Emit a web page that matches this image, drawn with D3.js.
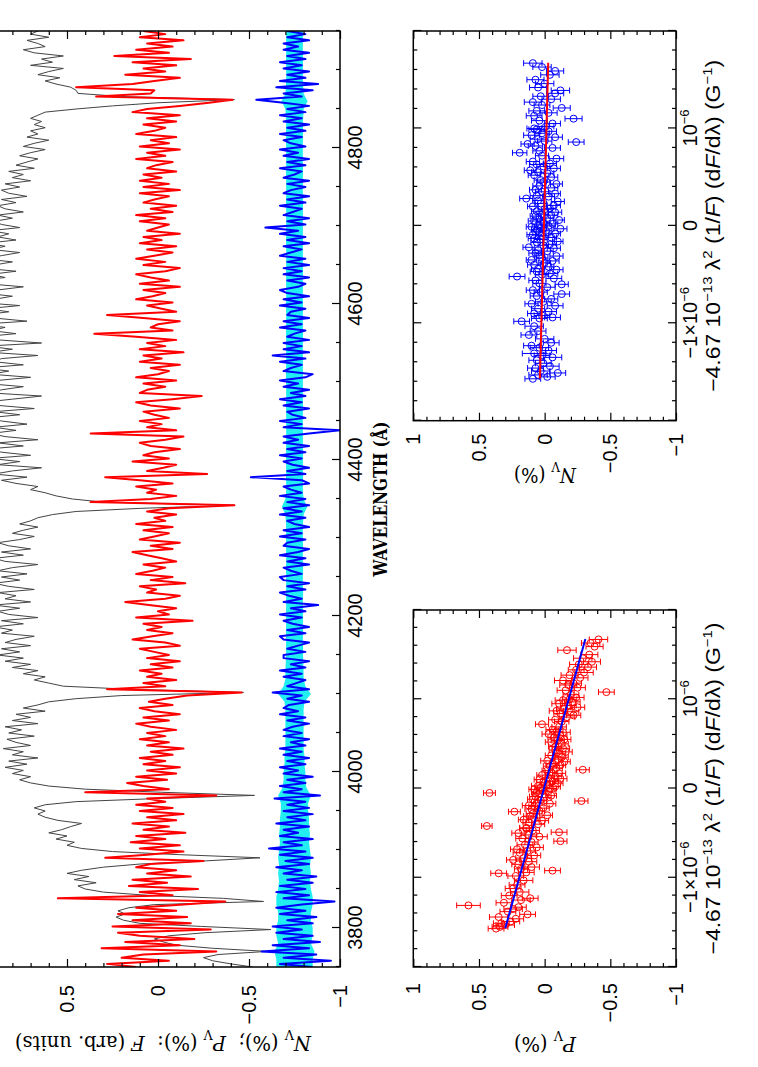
<!DOCTYPE html>
<html>
<head>
<meta charset="utf-8">
<script src="https://cdn.jsdelivr.net/npm/d3@7"></script>
<style>
  body { margin: 0; background: #fff; }
  svg { display: block; }
</style>
</head>
<body>
<div id="canvas"></div>
<script>
'use strict';

// Spectra are sampled on a regular wavelength grid (Angstrom).
const SPEC_START = 3750;
const SPEC_STEP = 4;

// Normalised flux F (arbitrary units, shifted into the frame).
const flux = [
  -0.52, -0.40, -0.30, -0.25, -0.33, -0.60, -0.30, -0.10, -0.03, 0.02, -0.06, -0.26, -0.62, -0.24, 0.10, 0.19, 0.23, 0.18, 0.22, 0.16, 0.02, -0.58, -0.36, 0.06, 0.30,
  0.40, 0.44, 0.34, 0.46, 0.38, 0.50, 0.42, 0.30, 0.10, -0.26, -0.56, -0.12, 0.25, 0.42, 0.50, 0.46, 0.56, 0.50, 0.60, 0.53, 0.48, 0.42, 0.55, 0.62, 0.66,
  0.62, 0.68, 0.62, 0.45, 0.00, -0.53, -0.02, 0.40, 0.60, 0.70, 0.76, 0.70, 0.80, 0.74, 0.84, 0.72, 0.82, 0.66, 0.80, 0.74, 0.85, 0.70, 0.78, 0.83, 0.68,
  0.82, 0.75, 0.84, 0.66, 0.80, 0.70, 0.78, 0.62, 0.74, 0.66, 0.60, 0.45, 0.20, -0.47, 0.15, 0.52, 0.60, 0.68, 0.62, 0.74, 0.66, 0.80, 0.70, 0.84, 0.74,
  0.88, 0.76, 0.86, 0.70, 0.84, 0.78, 0.68, 0.86, 0.80, 0.90, 0.74, 0.86, 0.66, 0.82, 0.88, 0.76, 0.90, 0.70, 0.84, 0.78, 0.88, 0.68, 0.82, 0.90, 0.76,
  0.86, 0.72, 0.88, 0.80, 0.66, 0.84, 0.90, 0.74, 0.86, 0.70, 0.82, 0.88, 0.76, 0.68, 0.80, 0.74, 0.66, 0.76, 0.70, 0.66, 0.58, 0.45, 0.10, -0.42, 0.30,
  0.47, 0.56, 0.62, 0.70, 0.66, 0.78, 0.86, 0.72, 0.90, 0.80, 0.64, 0.88, 0.76, 0.92, 0.70, 0.86, 0.94, 0.74, 0.88, 0.66, 0.84, 0.92, 0.78, 0.90, 0.72,
  0.86, 0.94, 0.76, 0.90, 0.68, 0.88, 0.96, 0.80, 0.64, 0.92, 0.86, 0.74, 0.94, 0.88, 0.70, 0.92, 0.82, 0.96, 0.74, 0.90, 0.86, 0.66, 0.92, 0.80, 0.94,
  0.64, 0.88, 0.96, 0.78, 0.92, 0.84, 0.98, 0.72, 0.90, 0.96, 0.82, 0.94, 0.76, 0.98, 0.90, 0.80, 0.96, 0.88, 0.74, 0.94, 0.98, 0.84, 0.92, 0.78, 0.96,
  0.90, 0.80, 0.96, 0.86, 0.76, 0.92, 0.84, 0.94, 0.78, 0.88, 0.82, 0.92, 0.76, 0.86, 0.90, 0.80, 0.88, 0.74, 0.84, 0.88, 0.78, 0.86, 0.72, 0.82, 0.86,
  0.76, 0.84, 0.70, 0.80, 0.74, 0.82, 0.68, 0.78, 0.72, 0.66, 0.76, 0.70, 0.62, 0.74, 0.68, 0.60, 0.72, 0.66, 0.70, 0.62, 0.68, 0.64, 0.70, 0.66, 0.62,
  0.45, 0.25, 0.00, -0.42, 0.20, 0.44, 0.45, 0.48, 0.56, 0.62, 0.54, 0.66, 0.60, 0.52, 0.70, 0.58, 0.64, 0.52, 0.68, 0.74, 0.62, 0.66, 0.72, 0.60, 0.70,
  0.66,
];

// Stokes V polarisation P_V (%).
const stokesV = [
  0.12, 0.28, -0.06, 0.20, 0.08, -0.32, 0.31, -0.12, 0.18, -0.20, 0.10, 0.22, -0.29, 0.25, -0.18, 0.14, -0.16, 0.22, -0.10, 0.12, -0.14, -0.37, 0.55, -0.08, 0.10,
  -0.22, 0.16, -0.05, 0.14, -0.18, 0.06, -0.10, 0.12, 0.04, -0.25, 0.29, 0.06, -0.14, 0.10, -0.12, 0.15, -0.04, 0.12, -0.15, 0.08, -0.06, 0.14, -0.10, 0.06, -0.14,
  0.10, -0.08, 0.12, -0.04, 0.06, -0.32, 0.40, -0.06, 0.08, 0.17, -0.05, 0.12, -0.10, 0.06, -0.12, 0.08, -0.04, 0.10, -0.08, 0.04, -0.14, 0.06, -0.06, 0.10, -0.04,
  0.06, -0.10, 0.04, 0.12, -0.06, 0.08, -0.12, 0.02, 0.10, -0.08, 0.05, -0.04, -0.16, -0.46, 0.28, -0.04, 0.08, -0.10, 0.06, -0.02, 0.10, -0.08, 0.04, -0.12, 0.06,
  -0.06, 0.02, 0.10, -0.12, -0.04, 0.14, 0.03, -0.08, 0.06, -0.02, 0.08, -0.19, 0.12, -0.06, 0.00, -0.10, 0.05, 0.18, -0.04, -0.12, 0.06, 0.01, 0.10, -0.15, 0.04,
  -0.08, 0.12, 0.03, -0.04, 0.08, -0.10, -0.02, 0.06, 0.14, -0.08, 0.04, -0.12, 0.10, 0.02, -0.06, 0.08, -0.08, 0.12, -0.04, 0.02, -0.10, 0.06, -0.06, -0.42, 0.37,
  0.04, -0.10, 0.06, 0.01, 0.12, -0.08, 0.10, 0.29, -0.27, 0.06, -0.03, -0.10, 0.14, -0.06, 0.08, 0.02, -0.12, 0.04, 0.10, -0.04, -0.14, 0.37, -0.10, 0.06, -0.02,
  0.10, -0.06, 0.02, 0.08, -0.12, 0.04, 0.12, -0.08, -0.24, 0.10, 0.06, -0.04, 0.08, -0.10, 0.12, 0.00, -0.06, 0.04, -0.12, 0.10, -0.02, 0.08, -0.14, 0.10, -0.04,
  0.06, -0.10, 0.12, 0.35, -0.08, 0.04, 0.00, -0.12, 0.08, 0.28, -0.10, -0.02, 0.06, -0.08, 0.12, 0.03, -0.04, 0.08, -0.12, 0.10, -0.06, 0.04, 0.12, -0.04, -0.12,
  0.08, -0.04, 0.12, 0.02, -0.08, 0.06, -0.10, 0.10, -0.02, 0.08, -0.12, 0.06, 0.00, -0.06, 0.10, -0.04, 0.12, -0.08, 0.04, -0.10, 0.08, 0.02, -0.06, 0.10, -0.12,
  0.08, -0.06, 0.10, -0.02, 0.08, -0.10, 0.06, 0.01, -0.08, 0.12, -0.04, 0.06, -0.12, 0.10, -0.06, 0.04, -0.10, 0.12, 0.02, -0.04, 0.08, -0.10, 0.06, -0.12, 0.14,
  0.06, -0.12, -0.28, -0.41, 0.34, 0.04, 0.02, 0.45, 0.14, 0.02, -0.12, 0.18, -0.04, 0.08, -0.10, 0.14, -0.18, 0.24, -0.06, 0.12, -0.08, 0.06, -0.14, 0.10, -0.04,
  0.08,
];

// Null spectrum N_V (%), drawn shifted down by NULL_OFFSET.
const NULL_OFFSET = -0.75;
const nullV = [
  -0.10, 0.08, -0.20, 0.06, -0.12, 0.18, -0.08, 0.12, -0.14, 0.06, -0.10, 0.10, -0.04, 0.12, -0.10, 0.04, -0.12, 0.08, -0.06, 0.10, -0.04, -0.22, 0.06, -0.08, 0.10,
  -0.06, 0.08, -0.10, 0.04, -0.12, 0.06, -0.04, 0.10, -0.08, 0.05, -0.10, 0.08, -0.06, 0.14, -0.04, 0.06, -0.10, 0.08, -0.02, 0.06, -0.08, 0.10, -0.06, 0.04, -0.10,
  0.06, -0.08, 0.04, -0.06, 0.11, -0.14, 0.06, -0.04, 0.08, -0.06, 0.04, -0.10, 0.06, -0.02, 0.08, -0.06, 0.04, -0.08, 0.06, -0.04, 0.08, -0.06, 0.02, -0.08, 0.06,
  -0.04, 0.06, 0.01, -0.08, 0.04, -0.06, 0.08, -0.02, 0.06, 0.03, -0.08, 0.04, -0.04, 0.12, -0.08, 0.04, -0.01, -0.06, 0.06, -0.04, 0.08, -0.06, 0.02, -0.08, 0.06,
  0.06, -0.06, 0.04, -0.02, -0.08, 0.06, 0.08, -0.06, 0.04, -0.08, 0.01, 0.06, -0.04, 0.08, -0.06, 0.02, -0.13, 0.06, -0.04, 0.03, 0.08, -0.06, 0.04, -0.08, 0.06,
  0.08, -0.04, 0.02, 0.06, -0.08, 0.04, -0.06, 0.08, -0.02, -0.08, 0.06, 0.04, -0.06, 0.08, -0.04, 0.06, -0.08, 0.00, 0.04, -0.06, 0.08, -0.04, 0.06, -0.08, 0.04,
  -0.06, 0.08, -0.04, 0.02, 0.06, -0.08, -0.04, 0.24, -0.06, 0.04, -0.08, 0.01, 0.06, -0.04, 0.08, -0.06, 0.04, -0.08, 0.06, -0.02, 0.06, -0.08, -0.25, 0.06, -0.04,
  0.08, -0.06, 0.01, 0.04, -0.08, 0.06, -0.04, 0.08, -0.06, 0.02, -0.08, 0.06, -0.02, 0.08, -0.06, -0.10, 0.06, 0.02, -0.04, 0.08, -0.06, 0.12, -0.08, 0.06, -0.04,
  0.06, -0.08, 0.04, 0.00, -0.06, 0.08, -0.04, 0.06, -0.08, 0.04, 0.02, -0.06, 0.08, -0.04, 0.06, -0.08, 0.04, 0.08, -0.02, -0.06, 0.04, -0.08, 0.06, -0.04, 0.06,
  -0.08, 0.04, -0.06, 0.08, 0.02, -0.04, 0.06, -0.08, 0.04, -0.06, 0.08, -0.02, 0.16, -0.06, 0.04, -0.08, 0.06, 0.01, -0.04, 0.08, -0.06, 0.04, -0.08, 0.06, 0.02,
  -0.06, 0.04, -0.08, 0.06, 0.00, -0.04, 0.08, -0.06, 0.04, -0.08, 0.06, -0.02, 0.08, -0.06, 0.02, 0.06, -0.04, 0.08, -0.06, 0.04, -0.08, 0.06, -0.04, 0.08, -0.06,
  0.04, -0.08, 0.06, 0.21, -0.04, 0.06, -0.10, 0.10, -0.13, 0.08, -0.06, 0.04, -0.08, 0.06, -0.04, 0.08, -0.06, 0.04, -0.08, 0.06, -0.02, 0.06, -0.08, 0.04, -0.06,
  0.04,
];

// 1-sigma uncertainty of N_V, on a coarser grid.
const SIGMA_START = 3750;
const SIGMA_STEP = 10;
const nullSigma = [
  0.10, 0.10, 0.11, 0.09, 0.10, 0.10, 0.09, 0.09, 0.10, 0.10,
  0.09, 0.085, 0.09, 0.085, 0.09, 0.085, 0.08, 0.085, 0.08, 0.08,
  0.075, 0.075, 0.09, 0.065, 0.06, 0.06, 0.055, 0.055, 0.05, 0.05,
  0.05, 0.05, 0.05, 0.05, 0.055, 0.09, 0.06, 0.05, 0.05, 0.048,
  0.047, 0.047, 0.046, 0.047, 0.046, 0.047, 0.046, 0.046, 0.047, 0.046,
  0.046, 0.047, 0.046, 0.046, 0.047, 0.046, 0.046, 0.047, 0.05, 0.07,
  0.05, 0.046, 0.046, 0.047, 0.046, 0.046, 0.047, 0.046, 0.046, 0.046,
  0.046, 0.046, 0.047, 0.046, 0.046, 0.046, 0.047, 0.046, 0.046, 0.046,
  0.046, 0.047, 0.046, 0.046, 0.046, 0.047, 0.046, 0.046, 0.046, 0.047,
  0.046, 0.046, 0.046, 0.047, 0.046, 0.046, 0.046, 0.046, 0.047, 0.046,
  0.046, 0.046, 0.047, 0.046, 0.046, 0.046, 0.046, 0.047, 0.046, 0.048,
  0.05, 0.072, 0.05, 0.047, 0.046, 0.046, 0.047, 0.046, 0.046, 0.046,
  0.046,
];

const wavelengthTicks = [3800, 4000, 4200, 4400, 4600, 4800];
// The top of the spectrum frame falls outside the page, so its "1" is not labelled.
const spectrumLabelTicks = [-1, -0.5, 0, 0.5];
const panelLabelTicks = [-1, -0.5, 0, 0.5, 1];

// Regression points. derivX is -4.67e-13 lambda^2 (1/F)(dF/dlambda) in units of 1e-6 G^-1.
const derivX = [
  -1.57, -1.55, -1.53, -1.51, -1.49, -1.46, -1.44, -1.41, -1.38, -1.35, -1.33, -1.31, -1.28, -1.25, -1.23, -1.20, -1.16, -1.12, -1.08, -1.03,
  -0.98, -0.95, -0.94, -0.92, -0.90, -0.88, -0.85, -0.82, -0.80, -0.78, -0.75, -0.72, -0.70, -0.68, -0.66, -0.63, -0.60, -0.59, -0.56, -0.54, -0.52, -0.50, -0.49, -0.47, -0.45,
  -0.44, -0.42, -0.40, -0.38, -0.36, -0.35, -0.33, -0.31, -0.30, -0.28,
  -0.26, -0.25, -0.23, -0.22, -0.20, -0.19, -0.17, -0.16, -0.14, -0.13,
  -0.12, -0.10, -0.09, -0.08, -0.06, -0.05, -0.04, -0.03, -0.02, -0.01,
  0.00, 0.01, 0.02, 0.03, 0.05, 0.06, 0.07, 0.08, 0.10, 0.11,
  0.12, 0.14, 0.15, 0.17, 0.18, 0.20, 0.21, 0.23, 0.25, 0.26,
  0.28, 0.30, 0.31, 0.33, 0.35, 0.37, 0.39, 0.41, 0.43, 0.45,
  0.47, 0.50, 0.52, 0.54, 0.55, 0.57, 0.59, 0.61, 0.63, 0.64, 0.66, 0.69, 0.72, 0.75, 0.77, 0.80, 0.82, 0.84, 0.86, 0.87, 0.89, 0.91, 0.93, 0.95, 0.97, 0.99, 1.00, 1.02,
  1.05, 1.08, 1.10, 1.13, 1.16, 1.18, 1.21, 1.24, 1.27, 1.30, 1.33, 1.36, 1.39, 1.42, 1.46, 1.50, 1.55, 1.59, 1.63, 1.67,
];
const pvPoints = [
  0.37, 0.34, 0.30, 0.33, 0.26, 0.22, 0.35, 0.13, 0.28, 0.24, 0.20, 0.58, 0.31, 0.18, 0.11, 0.27, 0.19, 0.24, 0.21, 0.16,
  0.22, 0.35, 0.14, -0.06, 0.18, 0.10, 0.20, 0.12, 0.24, 0.16, 0.08, 0.19, 0.13, 0.21, 0.06, 0.15, 0.10, -0.12, 0.17, 0.04, 0.12, 0.20, -0.11, 0.09, 0.14,
  0.14, 0.44, 0.05, 0.12, 0.02, 0.16, 0.08, 0.11, -0.02, 0.09,
  0.23, 0.04, 0.10, 0.01, 0.08, 0.12, -0.04, 0.06, -0.28, 0.03,
  0.09, 0.00, 0.07, -0.05, 0.04, 0.42, 0.06, -0.03, 0.02, 0.08,
  -0.04, 0.03, -0.08, 0.05, -0.02, -0.10, 0.01, -0.06, 0.04, -0.12,
  -0.03, -0.08, 0.02, -0.11, -0.05, -0.02, -0.29, -0.09, -0.04, -0.12,
  -0.06, -0.15, -0.02, -0.10, -0.13, -0.05, -0.11, -0.16, -0.08, -0.14,
  -0.08, -0.13, -0.05, -0.10, -0.15, -0.07, -0.12, -0.03, -0.14, -0.09, -0.06, -0.11, 0.02, -0.13, -0.08, -0.17, -0.22, -0.12, -0.20, -0.09, -0.15, -0.25, -0.18, -0.11, -0.21, -0.14, -0.19, -0.24,
  -0.20, -0.47, -0.16, -0.25, -0.18, -0.22, -0.14, -0.27, -0.19, -0.30, -0.24, -0.33, -0.26, -0.36, -0.29, -0.34, -0.17, -0.38, -0.35, -0.41,
];
const nvPoints = [
  0.09, -0.02, 0.05, -0.10, 0.03, 0.07, -0.04, 0.01, 0.06, -0.06, 0.02, 0.08, -0.03, 0.04, 0.10, -0.05, 0.00, 0.12, 0.05, 0.08,
  0.175, 0.04, -0.06, 0.02, 0.08, -0.03, 0.05, -0.08, 0.10, 0.01, -0.05, 0.06, -0.13, 0.03, 0.09, -0.02, -0.13, 0.04, 0.07, -0.07, 0.21, 0.02, -0.04, 0.06, -0.09,
  0.05, -0.03, 0.08, 0.00, -0.06, 0.10, 0.02, -0.09, 0.04, 0.07,
  -0.02, 0.05, -0.07, 0.12, 0.01, -0.04, 0.06, -0.10, 0.03, 0.08,
  -0.05, 0.02, 0.09, -0.08, 0.04, -0.01, 0.06, -0.12, 0.03, 0.10,
  -0.03, 0.05, -0.06, 0.01, 0.08, -0.11, 0.04, -0.02, 0.07, -0.05,
  0.02, -0.08, 0.06, 0.00, -0.04, 0.09, -0.07, 0.03, -0.10, 0.05,
  0.14, -0.03, 0.06, -0.08, 0.02, 0.07, -0.05, 0.04, -0.09, 0.01,
  0.03, -0.05, 0.08, -0.02, 0.05, 0.11, -0.07, 0.01, 0.06, -0.04, 0.09, -0.09, 0.02, 0.19, 0.04, -0.06, 0.07, 0.13, -0.24, 0.00, 0.05, -0.08, 0.10, 0.02, -0.03, 0.06, 0.08, -0.01,
  -0.06, 0.04, -0.22, 0.08, -0.03, 0.06, -0.13, 0.02, 0.09, -0.05, 0.03, -0.08, -0.12, 0.05, 0.00, 0.07, -0.04, -0.08, 0.02, 0.09,
];
const pointSigma = [
  0.06, 0.06, 0.07, 0.06, 0.07, 0.06, 0.07, 0.06, 0.06, 0.07, 0.06, 0.09, 0.06, 0.07, 0.06, 0.06, 0.07, 0.06, 0.06, 0.07,
  0.06, 0.06, 0.06, 0.06, 0.05, 0.06, 0.05, 0.06, 0.05, 0.06, 0.05, 0.05, 0.06, 0.05, 0.05, 0.06, 0.05, 0.05, 0.05, 0.06, 0.06, 0.05, 0.06, 0.05, 0.05,
  0.05, 0.04, 0.05, 0.045, 0.05, 0.04, 0.045, 0.05, 0.04, 0.05,
  0.045, 0.04, 0.05, 0.045, 0.04, 0.05, 0.045, 0.04, 0.05, 0.045,
  0.04, 0.05, 0.045, 0.04, 0.05, 0.045, 0.04, 0.05, 0.045, 0.04,
  0.05, 0.045, 0.04, 0.05, 0.045, 0.04, 0.05, 0.045, 0.04, 0.05,
  0.045, 0.05, 0.04, 0.05, 0.045, 0.04, 0.05, 0.045, 0.05, 0.04,
  0.05, 0.045, 0.05, 0.04, 0.05, 0.045, 0.05, 0.05, 0.045, 0.05,
  0.05, 0.05, 0.045, 0.05, 0.05, 0.045, 0.05, 0.05, 0.055, 0.05, 0.05, 0.055, 0.05, 0.055, 0.05, 0.06, 0.055, 0.05, 0.06, 0.055, 0.06, 0.055, 0.06, 0.055, 0.06, 0.06, 0.055, 0.06,
  0.06, 0.06, 0.065, 0.06, 0.065, 0.06, 0.065, 0.06, 0.065, 0.07, 0.06, 0.065, 0.07, 0.065, 0.07, 0.065, 0.07, 0.065, 0.07, 0.07,
];

// Least-squares fits, given by their end points.
const fitX = [-1.567, 1.674];
const pvFit = [0.30, -0.31];
const nvFit = [0.036, -0.027];

const TICK_FONT = '"Liberation Sans", Arial, Helvetica, sans-serif';
const LABEL_FONT = '"DejaVu Serif", "Liberation Serif", serif';
const MAJOR_TICK = 8;
const MINOR_TICK = 4;

/**
 * Appends text pieces to a text element. Each piece is [string, style]
 * where style is '' (roman), 'i' (italic), 'sup' or 'sub'.
 */
function appendPieces(text, pieces, size) {
  let shift = 0;
  pieces.forEach(([str, style]) => {
    const span = text.append('tspan').text(str);
    let target = 0;
    if (style === 'sup') target = -0.42 * size;
    if (style === 'sub') target = 0.3 * size;
    if (target !== shift) {
      span.attr('dy', target - shift);
      shift = target;
    }
    if (style === 'sup' || style === 'sub') span.attr('font-size', size * 0.65);
    if (style === 'i') span.attr('font-style', 'italic');
  });
}

/**
 * Draws the landscape figure turned a quarter turn onto the portrait page.
 */
class PolarimetryFigure {
  constructor() {
    /** @private @const {number} landscape width */
    this.width_ = 1067;
    /** @private @const {number} landscape height */
    this.height_ = 758;
    this.svg_ = d3.select('#canvas').append('svg')
        .attr('width', this.height_)
        .attr('height', this.width_);
    /** @private {Object} all drawing happens in landscape coordinates */
    this.root_ = this.svg_.append('g')
        .attr('transform', `translate(0, ${this.width_}) rotate(-90)`);
    this.defs_ = this.root_.append('defs');
  }

  /** Inward ticks on one side of a frame. */
  addTicks_(g, make, scale, values, size, transform) {
    g.append('g')
        .attr('transform', transform)
        .call(make(scale).tickValues(values).tickSize(-size).tickFormat(''))
        .call(s => s.select('.domain').remove())
        .call(s => s.selectAll('line').attr('stroke', '#000')
            .attr('stroke-width', 1.2));
  }

  /** Tick labels only (no tick lines). */
  addLabels_(g, make, scale, values, padding, transform, format) {
    return g.append('g')
        .attr('transform', transform)
        .call(make(scale).tickValues(values).tickSize(0)
            .tickPadding(padding).tickFormat(format))
        .call(s => s.select('.domain').remove())
        .attr('font-family', TICK_FONT)
        .attr('font-size', 20)
        .call(s => s.selectAll('text').attr('fill', '#000'));
  }

  /** Box with PGPLOT-style ticks on all four sides. */
  drawFrame_(g, x, y, spec) {
    const [xa, xb] = x.range();
    const [ya, yb] = y.range();
    const minorX = spec.xMinor.filter(v => !spec.xMajor.some(m => Math.abs(m - v) < 1e-9));
    const minorY = spec.yMinor.filter(v => !spec.yMajor.some(m => Math.abs(m - v) < 1e-9));
    this.addTicks_(g, d3.axisBottom, x, minorX, MINOR_TICK, `translate(0,${ya})`);
    this.addTicks_(g, d3.axisBottom, x, spec.xMajor, MAJOR_TICK, `translate(0,${ya})`);
    this.addTicks_(g, d3.axisTop, x, minorX, MINOR_TICK, `translate(0,${yb})`);
    this.addTicks_(g, d3.axisTop, x, spec.xMajor, MAJOR_TICK, `translate(0,${yb})`);
    this.addTicks_(g, d3.axisLeft, y, minorY, MINOR_TICK, `translate(${xa},0)`);
    this.addTicks_(g, d3.axisLeft, y, spec.yMajor, MAJOR_TICK, `translate(${xa},0)`);
    this.addTicks_(g, d3.axisRight, y, minorY, MINOR_TICK, `translate(${xb},0)`);
    this.addTicks_(g, d3.axisRight, y, spec.yMajor, MAJOR_TICK, `translate(${xb},0)`);
    g.append('rect')
        .attr('x', xa).attr('y', yb)
        .attr('width', xb - xa).attr('height', ya - yb)
        .attr('fill', 'none')
        .attr('stroke', '#000')
        .attr('stroke-width', 1.5);
  }

  /** Vertical axis title, rotated, with sub/superscript pieces. */
  yTitle_(g, xPos, yPos, pieces, length) {
    const t = g.append('text')
        .attr('transform', `translate(${xPos},${yPos}) rotate(-90)`)
        .attr('text-anchor', 'middle')
        .attr('font-family', LABEL_FONT)
        .attr('font-size', 20)
        .attr('textLength', length)
        .attr('lengthAdjust', 'spacingAndGlyphs')
        .style('white-space', 'pre');
    appendPieces(t, pieces, 20);
  }

  /** Top panel: flux, P_V and N_V against wavelength. */
  drawSpectrum() {
    const g = this.root_.append('g');
    const x = d3.scaleLinear().domain([3750, 4950]).range([100, 1036]);
    const y = d3.scaleLinear().domain([-1, 1]).range([340, -24]);

    this.defs_.append('clipPath').attr('id', 'spec-clip')
        .append('rect')
        .attr('x', 100).attr('y', -24)
        .attr('width', 936).attr('height', 364);

    const plot = g.append('g').attr('clip-path', 'url(#spec-clip)');
    const wl = i => SPEC_START + i * SPEC_STEP;
    const line = d3.line().x((d, i) => x(wl(i)));

    plot.append('path')
        .attr('d', line.y(d => y(d))(flux))
        .attr('fill', 'none')
        .attr('stroke', '#444')
        .attr('stroke-width', 1);
    plot.append('path')
        .attr('d', line.y(d => y(d))(stokesV))
        .attr('fill', 'none')
        .attr('stroke', '#ff0000')
        .attr('stroke-width', 2)
        .attr('stroke-linejoin', 'round');
    plot.append('path')
        .attr('d', d3.area()
            .x((d, i) => x(SIGMA_START + i * SIGMA_STEP))
            .y0(d => y(NULL_OFFSET - d))
            .y1(d => y(NULL_OFFSET + d))(nullSigma))
        .attr('fill', '#22eef2');
    plot.append('path')
        .attr('d', line.y(d => y(d + NULL_OFFSET))(nullV))
        .attr('fill', 'none')
        .attr('stroke', '#0000ff')
        .attr('stroke-width', 2)
        .attr('stroke-linejoin', 'round');

    this.drawFrame_(g, x, y, {
      xMajor: wavelengthTicks,
      xMinor: d3.range(3750, 4951, 50),
      yMajor: [-1, -0.5, 0, 0.5, 1],
      yMinor: d3.range(-10, 11).map(v => v / 10),
    });
    const fmt = d3.format('~g');
    this.addLabels_(g, d3.axisBottom, x, wavelengthTicks, 7.5, 'translate(0,340)', d3.format('d'));
    this.addLabels_(g, d3.axisLeft, y, spectrumLabelTicks, 18, 'translate(100,0)', fmt);

    g.append('text')
        .attr('x', x(4350))
        .attr('y', 387)
        .attr('text-anchor', 'middle')
        .attr('font-family', LABEL_FONT)
        .attr('font-size', 19)
        .attr('font-weight', 'bold')
        .attr('textLength', 155)
        .attr('lengthAdjust', 'spacingAndGlyphs')
        .text('WAVELENGTH (Å)');

    this.yTitle_(g, 31, 163, [
      ['N', 'i'], ['V', 'sub'], [' (%);  ', ''], ['P', 'i'], ['V', 'sub'],
      [' (%):  ', ''], ['F', 'i'], [' (arb. units)', ''],
    ], 296);
  }

  /** One regression panel of the lower row. */
  drawRegression_(left, right, values, color, fitColor, fitValues, titlePieces, titleX, yPad) {
    const g = this.root_.append('g');
    const x = d3.scaleLinear().domain([-2, 2]).range([left, right]);
    const y = d3.scaleLinear().domain([-1, 1]).range([676, 413.3]);

    const pts = g.append('g')
        .selectAll('g')
        .data(derivX.map((d, i) => ({x: d, v: values[i], s: pointSigma[i]})))
        .join('g')
        .attr('stroke', color)
        .attr('fill', 'none')
        .attr('stroke-width', 1);
    pts.append('line')
        .attr('x1', d => x(d.x)).attr('x2', d => x(d.x))
        .attr('y1', d => y(d.v - d.s)).attr('y2', d => y(d.v + d.s));
    pts.append('line')
        .attr('x1', d => x(d.x) - 3).attr('x2', d => x(d.x) + 3)
        .attr('y1', d => y(d.v - d.s)).attr('y2', d => y(d.v - d.s));
    pts.append('line')
        .attr('x1', d => x(d.x) - 3).attr('x2', d => x(d.x) + 3)
        .attr('y1', d => y(d.v + d.s)).attr('y2', d => y(d.v + d.s));
    pts.append('circle')
        .attr('cx', d => x(d.x))
        .attr('cy', d => y(d.v))
        .attr('r', 3.5);

    g.append('line')
        .attr('x1', x(fitX[0])).attr('y1', y(fitValues[0]))
        .attr('x2', x(fitX[1])).attr('y2', y(fitValues[1]))
        .attr('stroke', fitColor)
        .attr('stroke-width', 2);

    this.drawFrame_(g, x, y, {
      xMajor: [-2, -1, 0, 1, 2],
      xMinor: d3.range(-10, 11).map(v => v / 5),
      yMajor: [-1, -0.5, 0, 0.5, 1],
      yMinor: d3.range(-10, 11).map(v => v / 10),
    });

    const power = {'-1': [['−1×10', ''], ['−6', 'sup']], '0': [['0', '']], '1': [['10', ''], ['−6', 'sup']]};
    this.addLabels_(g, d3.axisBottom, x, [-1, 0, 1], 6.8, 'translate(0,676)', d3.format('d'))
        .call(s => s.selectAll('.tick text').each(function(d) {
          const t = d3.select(this).text('');
          appendPieces(t, power[String(d)], 20);
        }));
    this.addLabels_(g, d3.axisLeft, y, panelLabelTicks, yPad,
        `translate(${left},0)`, d3.format('~g'));

    const t = g.append('text')
        .attr('x', (left + right) / 2)
        .attr('y', 720)
        .attr('text-anchor', 'middle')
        .attr('font-family', TICK_FONT)
        .attr('font-size', 20)
        .attr('textLength', 332)
        .attr('lengthAdjust', 'spacingAndGlyphs')
        .style('white-space', 'pre');
    appendPieces(t, [
      ['−4.67 10', ''], ['−13', 'sup'], [' λ', ''], ['2', 'sup'], [' (1/', ''],
      ['F', 'i'], [') (d', ''], ['F', 'i'], ['/dλ) (G', ''], ['−1', 'sup'], [')', ''],
    ], 20);

    this.yTitle_(g, titleX, 545, titlePieces, 62);
  }

  drawRegressions() {
    this.drawRegression_(100, 457, pvPoints, '#ff0000', '#0000ff', pvFit,
        [['P', 'i'], ['V', 'sub'], [' (%)', '']], 30, 16);
    this.drawRegression_(646.3, 1036, nvPoints, '#0000ff', '#ff0000', nvFit,
        [['N', 'i'], ['V', 'sub'], [' (%)', '']], 599, 13);
  }
}

const figure = new PolarimetryFigure();
figure.drawSpectrum();
figure.drawRegressions();
</script>
</body>
</html>
